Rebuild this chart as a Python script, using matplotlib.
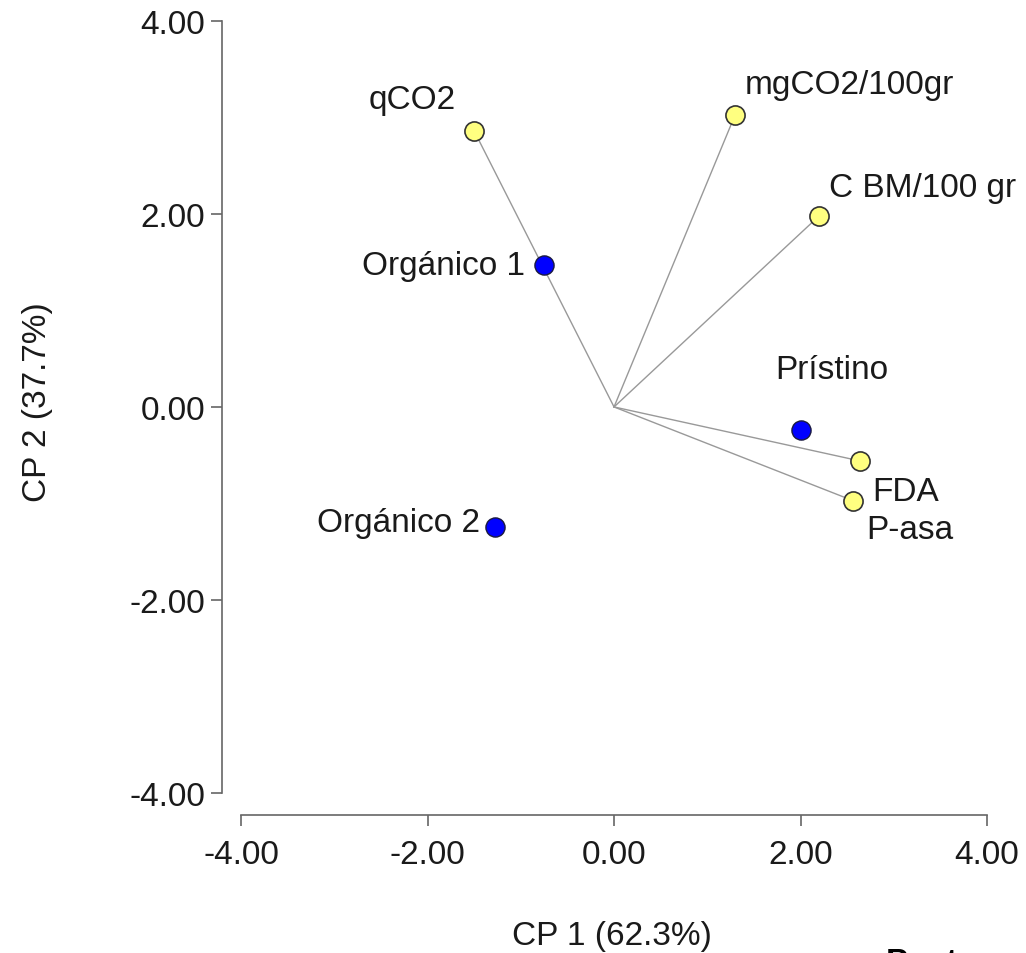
import matplotlib.pyplot as plt

plt.rcParams['font.family'] = ['Liberation Sans', 'DejaVu Sans']

# Variables (vectores) del biplot
var_names = ['qCO2', 'mgCO2/100gr', 'C BM/100 gr', 'FDA', 'P-asa']
var_x = [-1.50, 1.30, 2.20, 2.64, 2.56]
var_y = [2.86, 3.03, 1.98, -0.56, -0.97]

# Sitios (observaciones)
obs_names = ['Orgánico 1', 'Prístino', 'Orgánico 2']
obs_x = [-0.75, 2.01, -1.28]
obs_y = [1.47, -0.24, -1.24]

# Posiciones de etiquetas
var_lab = [(-1.70, 3.19, 'right'), (1.40, 3.34, 'left'), (2.31, 2.27, 'left'),
           (2.77, -0.88, 'left'), (2.70, -1.27, 'left')]
obs_lab = [(-0.95, 1.47, 'right'), (1.73, 0.39, 'left'), (-1.44, -1.20, 'right')]

ticks = [-4, -2, 0, 2, 4]
tick_labels = ['-4.00', '-2.00', '0.00', '2.00', '4.00']

fig = plt.figure(figsize=(10.26, 9.54), dpi=100)
ax = fig.add_axes([0.2164, 0.1447, 0.7456, 0.8323])

# vectores desde el origen
for x, y in zip(var_x, var_y):
    ax.plot([0, x], [0, y], color='#999999', lw=1.0, zorder=1)

ax.scatter(var_x, var_y, s=190, c='#ffff80', edgecolors='#333333',
           linewidths=1.2, zorder=3)
ax.scatter(obs_x, obs_y, s=190, c='#0000ff', edgecolors='#1a1a40',
           linewidths=1.0, zorder=3)

for name, (tx, ty, ha) in zip(var_names, var_lab):
    ax.text(tx, ty, name, ha=ha, va='center', fontsize=24, color='#1a1a1a')
for name, (tx, ty, ha) in zip(obs_names, obs_lab):
    ax.text(tx, ty, name, ha=ha, va='center', fontsize=24, color='#1a1a1a')

ax.set_xlim(-4.204, 4.0)
ax.set_ylim(-4.228, 4.0)
ax.set_xticks(ticks)
ax.set_xticklabels(tick_labels)
ax.set_yticks(ticks)
ax.set_yticklabels(tick_labels)

for s in ['top', 'right']:
    ax.spines[s].set_visible(False)
ax.spines['left'].set_bounds(-4, 4)
ax.spines['bottom'].set_bounds(-4, 4)
for s in ['left', 'bottom']:
    ax.spines[s].set_color('#666666')
    ax.spines[s].set_linewidth(1.2)

ax.tick_params(axis='both', direction='out', length=8, width=1.2,
               color='#666666', labelsize=24, labelcolor='#1a1a1a')
ax.tick_params(axis='x', pad=9)
ax.tick_params(axis='y', pad=4)

fig.text(612 / 1026, 1 - 937 / 954, 'CP 1 (62.3%)', ha='center', va='center',
         fontsize=24, color='#1a1a1a')
fig.text(38 / 1026, 1 - 402 / 954, 'CP 2 (37.7%)', ha='center', va='center',
         rotation=90, fontsize=24, color='#1a1a1a')

# texto recortado en la esquina inferior
fig.text(886 / 1026, -0.019, 'Post', ha='left', va='baseline',
         fontsize=24, fontweight='bold', color='black')

fig.savefig('out.png', dpi=100)
